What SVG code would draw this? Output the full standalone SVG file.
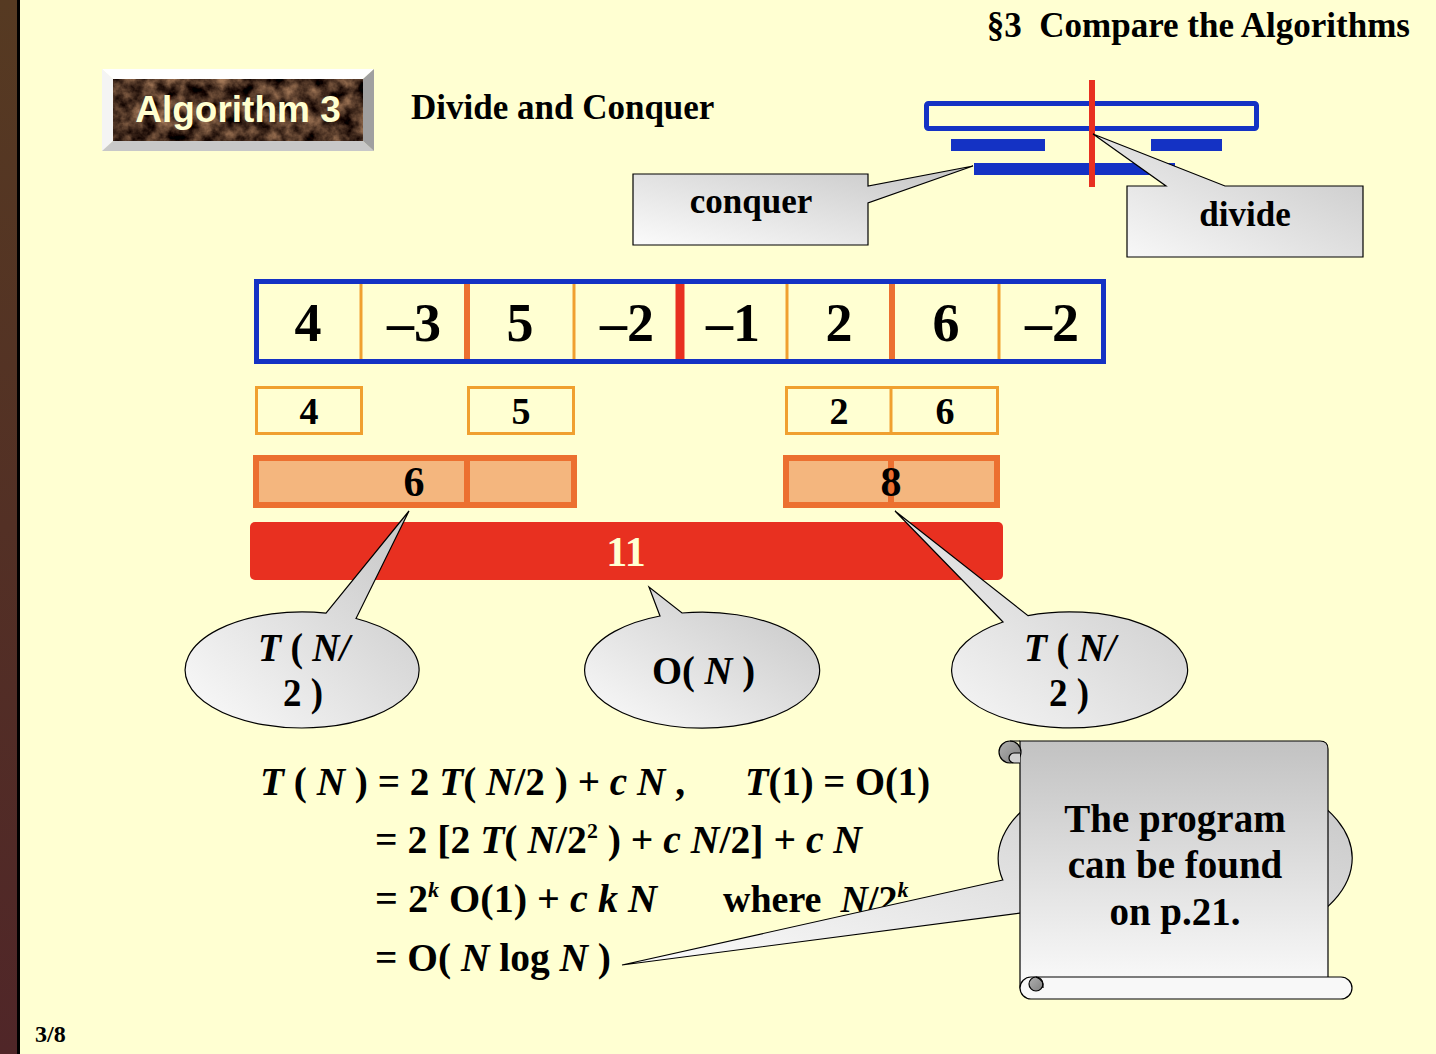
<svg xmlns="http://www.w3.org/2000/svg" width="1436" height="1054" viewBox="0 0 1436 1054">
<defs>
<linearGradient id="strip" x1="0" y1="0" x2="0" y2="1"><stop offset="0" stop-color="#563A22"/><stop offset="1" stop-color="#502628"/></linearGradient>
<linearGradient id="callout" x1="0" y1="1" x2="1" y2="0"><stop offset="0" stop-color="#FBFBFB"/><stop offset="1" stop-color="#C4C4C4"/></linearGradient>
<linearGradient id="scrollg" x1="0" y1="0" x2="0" y2="1"><stop offset="0" stop-color="#C2C2C2"/><stop offset="1" stop-color="#FAFAFA"/></linearGradient>
<linearGradient id="curl" x1="0" y1="0" x2="1" y2="1"><stop offset="0" stop-color="#B0B0B0"/><stop offset="1" stop-color="#808080"/></linearGradient>
<filter id="marble" x="0" y="0" width="100%" height="100%" color-interpolation-filters="sRGB">
<feTurbulence type="fractalNoise" baseFrequency="0.07" numOctaves="4" seed="7" result="n"/>
<feColorMatrix in="n" type="matrix" values="1.0 0 0 0 -0.2  0.8 0 0 0 -0.2  0.6 0 0 0 -0.16  0 0 0 0 1" result="c"/>
<feComposite in="c" in2="SourceGraphic" operator="in"/>
</filter>
</defs>
<style>
.s{font-family:"Liberation Serif","Times New Roman",serif;font-weight:bold;fill:#000}
.it{font-style:italic}
.mid{text-anchor:middle}
.co{fill:url(#callout);stroke:#000;stroke-width:1.2}
.blue{fill:#1432C4}
.thin{stroke:#F0A030;stroke-width:3}
.thick{stroke:#EC7030;stroke-width:6}
.cell{font-size:54px}
.sm{font-size:38px}
.eq{font-size:40px}
</style>
<rect x="0" y="0" width="1436" height="1054" fill="#FFFFD2"/>
<rect x="0" y="0" width="17" height="1054" fill="url(#strip)"/>
<rect x="17" y="0" width="3" height="1054" fill="#000"/>

<g id="title"><text class="s" x="1410" y="37" font-size="35" text-anchor="end" xml:space="preserve">§3  Compare the Algorithms</text></g>

<g id="algo-button">
<rect x="113" y="79" width="250" height="62" fill="#000" filter="url(#marble)"/>
<polygon points="102,69 374,69 363,79 113,79" fill="#FFFFFF"/>
<polygon points="102,69 113,79 113,141 102,151" fill="#F4F4F4"/>
<polygon points="102,151 113,141 363,141 374,151" fill="#C8C8C8"/>
<polygon points="374,69 374,151 363,141 363,79" fill="#A0A0A0"/>
<text x="238" y="122" font-family="Liberation Sans, Arial, sans-serif" font-weight="bold" font-size="37" fill="#FFFFD0" text-anchor="middle">Algorithm 3</text>
</g>

<g id="subtitle"><text class="s" x="411" y="119" font-size="35">Divide and Conquer</text></g>

<g id="dc-diagram">
<rect x="926.5" y="103.5" width="330" height="25" rx="2" fill="none" stroke="#1432C4" stroke-width="5"/>
<rect class="blue" x="951" y="139" width="94" height="12"/>
<rect class="blue" x="1151" y="139" width="71" height="12"/>
<rect class="blue" x="974" y="163" width="201" height="12"/>
<rect x="1089" y="80" width="6" height="107" fill="#E83020"/>
</g>

<g id="conquer">
<path class="co" d="M633,174 H868 V186 L973,166 L868,203 V245 H633 Z"/>
<text class="s mid" x="751" y="213" font-size="35">conquer</text>
</g>

<g id="divide">
<path class="co" d="M1127,186 H1166 L1093,134 L1225,186 H1363 V257 H1127 Z"/>
<text class="s mid" x="1245" y="226" font-size="35">divide</text>
</g>

<g id="array">
<rect x="256.5" y="281.5" width="847" height="80" fill="#FFFFD2" stroke="#1432C4" stroke-width="5"/>
<line class="thin" x1="361" y1="284" x2="361" y2="359"/>
<line class="thin" x1="574" y1="284" x2="574" y2="359"/>
<line class="thin" x1="787" y1="284" x2="787" y2="359"/>
<line class="thin" x1="999" y1="284" x2="999" y2="359"/>
<line class="thick" x1="467" y1="284" x2="467" y2="359"/>
<line class="thick" x1="892" y1="284" x2="892" y2="359"/>
<line x1="680" y1="284" x2="680" y2="359" stroke="#E83020" stroke-width="9"/>
<g class="s cell mid">
<text x="308" y="341">4</text>
<text x="414" y="341">–3</text>
<text x="520" y="341">5</text>
<text x="627" y="341">–2</text>
<text x="733" y="341">–1</text>
<text x="839" y="341">2</text>
<text x="946" y="341">6</text>
<text x="1052" y="341">–2</text>
</g>
</g>

<g id="row2">
<rect class="thin" x="256.5" y="387.5" width="105" height="46" fill="none"/>
<rect class="thin" x="468.5" y="387.5" width="105" height="46" fill="none"/>
<rect class="thin" x="786.5" y="387.5" width="211" height="46" fill="none"/>
<line class="thin" x1="891" y1="387" x2="891" y2="434"/>
<g class="s sm mid">
<text x="309" y="424">4</text>
<text x="521" y="424">5</text>
<text x="839" y="424">2</text>
<text x="945" y="424">6</text>
</g>
</g>

<g id="row3">
<rect class="thick" x="256" y="458" width="318" height="47" fill="#F4B67E"/>
<line class="thick" x1="467" y1="458" x2="467" y2="505"/>
<rect class="thick" x="786" y="458" width="211" height="47" fill="#F4B67E"/>
<line class="thick" x1="891" y1="458" x2="891" y2="505"/>
<text class="s mid" x="414" y="496" font-size="42">6</text>
<text class="s mid" x="891" y="496" font-size="42">8</text>
</g>

<g id="merge">
<rect x="250" y="522" width="753" height="58" rx="5" fill="#E83020"/>
<text class="s mid" x="626" y="566" font-size="42" style="fill:#FFFFD2">11</text>
</g>

<g id="tleft">
<path class="co" d="M326,613.2 L409,511 L356,618.5 A117,58 0 1 1 326,613.2 Z"/>
<text class="s" x="258" y="661" font-size="40" textLength="92" lengthAdjust="spacingAndGlyphs"><tspan class="it">T</tspan> ( <tspan class="it">N/</tspan></text>
<text class="s" x="283" y="706" font-size="40" textLength="40" lengthAdjust="spacingAndGlyphs">2 )</text>
</g>

<g id="on">
<path class="co" d="M660,616 L649,587 L682,613 A117.5,58 0 1 1 660,616 Z"/>
<text class="s" x="652" y="684" font-size="40" textLength="103" lengthAdjust="spacingAndGlyphs">O( <tspan class="it">N</tspan> )</text>
</g>

<g id="tright">
<path class="co" d="M1003,622 L895,511 L1028,615.6 A118,58 0 1 1 1003,622 Z"/>
<text class="s" x="1024" y="661" font-size="40" textLength="92" lengthAdjust="spacingAndGlyphs"><tspan class="it">T</tspan> ( <tspan class="it">N/</tspan></text>
<text class="s" x="1049" y="706" font-size="40" textLength="40" lengthAdjust="spacingAndGlyphs">2 )</text>
</g>

<g id="equations" class="s eq">
<text x="260" y="795" textLength="425" lengthAdjust="spacingAndGlyphs"><tspan class="it">T</tspan> ( <tspan class="it">N</tspan> ) = 2 <tspan class="it">T</tspan>( <tspan class="it">N</tspan>/2 ) + <tspan class="it">c N</tspan> ,</text>
<text x="745" y="795" textLength="185" lengthAdjust="spacingAndGlyphs"><tspan class="it">T</tspan>(1) = O(1)</text>
<text x="375" y="853" textLength="487" lengthAdjust="spacingAndGlyphs">= 2 [2 <tspan class="it">T</tspan>( <tspan class="it">N</tspan>/2<tspan font-size="22" dy="-15">2</tspan><tspan dy="15"> ) + </tspan><tspan class="it">c N</tspan>/2] + <tspan class="it">c N</tspan></text>
<text x="375" y="912" textLength="282" lengthAdjust="spacingAndGlyphs">= 2<tspan font-size="22" dy="-15" class="it">k</tspan><tspan dy="15"> O(1) + </tspan><tspan class="it">c k N</tspan></text>
<text x="723" y="912" font-size="38" xml:space="preserve">where  <tspan class="it">N</tspan>/2<tspan font-size="22" dy="-15" class="it">k</tspan></text>
<text x="375" y="971" textLength="236" lengthAdjust="spacingAndGlyphs">= O( <tspan class="it">N</tspan> log <tspan class="it">N</tspan> )</text>
</g>

<g id="note">
<path class="co" d="M1002.8,880 L622,965 L1029,912 A177,95 0 1 0 1002.8,880 Z"/>
<path d="M1020,741 H1320 Q1328,741 1328,749 V988 H1020 Z" fill="url(#scrollg)" stroke="#000" stroke-width="1.2"/>
<circle cx="1010" cy="752" r="11" fill="url(#curl)" stroke="#000" stroke-width="1.2"/>
<path d="M1010,741 H1020 M1020,763 H1014 A5,5 0 0 1 1014,753 H1020" fill="#D0D0D0" stroke="#000" stroke-width="1.2"/>
<path d="M1031,977 H1341 A11,11 0 0 1 1341,999 H1031 A11,11 0 0 1 1031,977 Z" fill="#F8F8F8" stroke="#000" stroke-width="1.2"/>
<circle cx="1036" cy="984" r="7" fill="url(#curl)" stroke="#000" stroke-width="1.2"/>
<path d="M1036,977 Q1044,980 1043,988" fill="none" stroke="#000" stroke-width="1.2"/>
<g class="s mid" font-size="39">
<text x="1175" y="832">The program</text>
<text x="1175" y="878">can be found</text>
<text x="1175" y="925">on p.21.</text>
</g>
</g>

<g id="page"><text class="s" x="35" y="1042" font-size="24">3/8</text></g>
</svg>
